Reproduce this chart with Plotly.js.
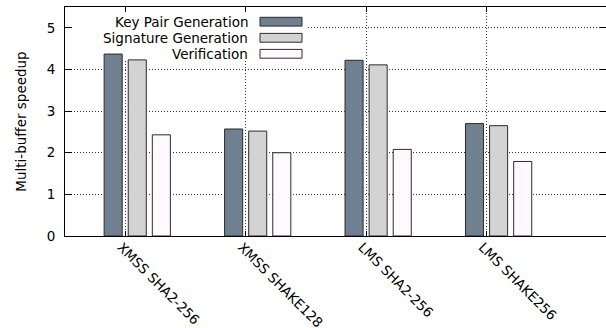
<!DOCTYPE html>
<html>
<head>
<meta charset="utf-8">
<script src="https://cdn.plot.ly/plotly-3.0.1.min.js"></script>
<style>
html,body{margin:0;padding:0;overflow:hidden;background:#fff;}
#chart{width:607px;height:328px;}
</style>
</head>
<body>
<div id="chart"></div>
<script>
const categories = ['XMSS SHA2-256', 'XMSS SHAKE128', 'LMS SHA2-256', 'LMS SHAKE256'];
const seriesNames = ['Key Pair Generation', 'Signature Generation', 'Verification'];
const keyPairGen = [4.37, 2.57, 4.22, 2.70];
const signatureGen = [4.23, 2.52, 4.11, 2.65];
const verification = [2.43, 2.00, 2.08, 1.79];
const yTicks = [0, 1, 2, 3, 4, 5];

const seriesValues = [keyPairGen, signatureGen, verification];
const colors = ['#708090', '#d3d3d3', '#fff8fe'];
const offsets = [-0.175, 0.025, 0.225];
const xs = categories.map((_, i) => i);
const FONT = 'DejaVu Sans, sans-serif';
const FS = 13.5;

const traces = seriesValues.map((vals, k) => ({
  type: 'bar',
  name: seriesNames[k],
  x: xs,
  y: vals,
  width: 0.15,
  offset: offsets[k],
  marker: {color: colors[k], line: {color: '#2b2b2b', width: 1}},
  showlegend: false,
  hoverinfo: 'y'
}));

// gnuplot-style key: text on the left, sample box on the right
const W = 542, H = 229; // plot area px
const keyTextX = (250 - 65) / W;
const boxX0 = (260 - 65) / W, boxX1 = (302 - 65) / W;
const rowY = [21.7, 37.8, 53.8].map(py => (236 - py) / H);
const halfBox = 4.4 / H;

const annotations = seriesNames.map((n, k) => ({
  xref: 'paper', yref: 'paper', x: keyTextX, y: rowY[k],
  xanchor: 'right', yanchor: 'middle', text: n, showarrow: false,
  font: {family: FONT, size: FS, color: '#000'}
}));
const shapes = [{
  type: 'rect', xref: 'x', yref: 'y', layer: 'between',
  x0: -0.49, x1: (308 - 65) / 120.4 - 0.5, y0: (236 - 61) / 41.64, y1: (236 - 12) / 41.64,
  fillcolor: '#fff', line: {width: 0}
}].concat(seriesNames.map((n, k) => ({
  type: 'rect', xref: 'paper', yref: 'paper', layer: 'above',
  x0: boxX0, x1: boxX1, y0: rowY[k] - halfBox, y1: rowY[k] + halfBox,
  fillcolor: colors[k], line: {color: '#2b2b2b', width: 1}
})));

const layout = {
  width: 607, height: 328,
  margin: {l: 65, r: 0, t: 7, b: 92},
  paper_bgcolor: '#fff', plot_bgcolor: '#fff',
  font: {family: FONT, size: FS, color: '#000'},
  xaxis: {
    range: [-0.5, 4.0],
    tickvals: xs, ticktext: categories, tickangle: 45,
    ticks: 'inside', ticklen: 5, tickcolor: '#000',
    showline: true, linecolor: '#000', linewidth: 1, mirror: 'ticks',
    showgrid: true, gridcolor: '#333', griddash: '1px,2px', gridwidth: 1,
    zeroline: false,
    ticklabelshift: -4, ticklabelstandoff: -3,
    tickfont: {family: FONT, size: FS, color: '#000'}
  },
  yaxis: {
    range: [0, 5.5],
    tickvals: yTicks,
    ticks: 'inside', ticklen: 7, tickcolor: '#000',
    showline: true, linecolor: '#000', linewidth: 1, mirror: 'ticks',
    showgrid: true, gridcolor: '#333', griddash: '1px,2px', gridwidth: 1,
    zeroline: false,
    ticklabelstandoff: 6,
    tickfont: {family: FONT, size: FS, color: '#000'},
    title: {text: 'Multi-buffer speedup', standoff: 16, font: {family: FONT, size: FS, color: '#000'}}
  },
  shapes: shapes,
  annotations: annotations,
  bargap: 0
};

Plotly.newPlot('chart', traces, layout, {displayModeBar: false, staticPlot: true});
</script>
</body>
</html>
